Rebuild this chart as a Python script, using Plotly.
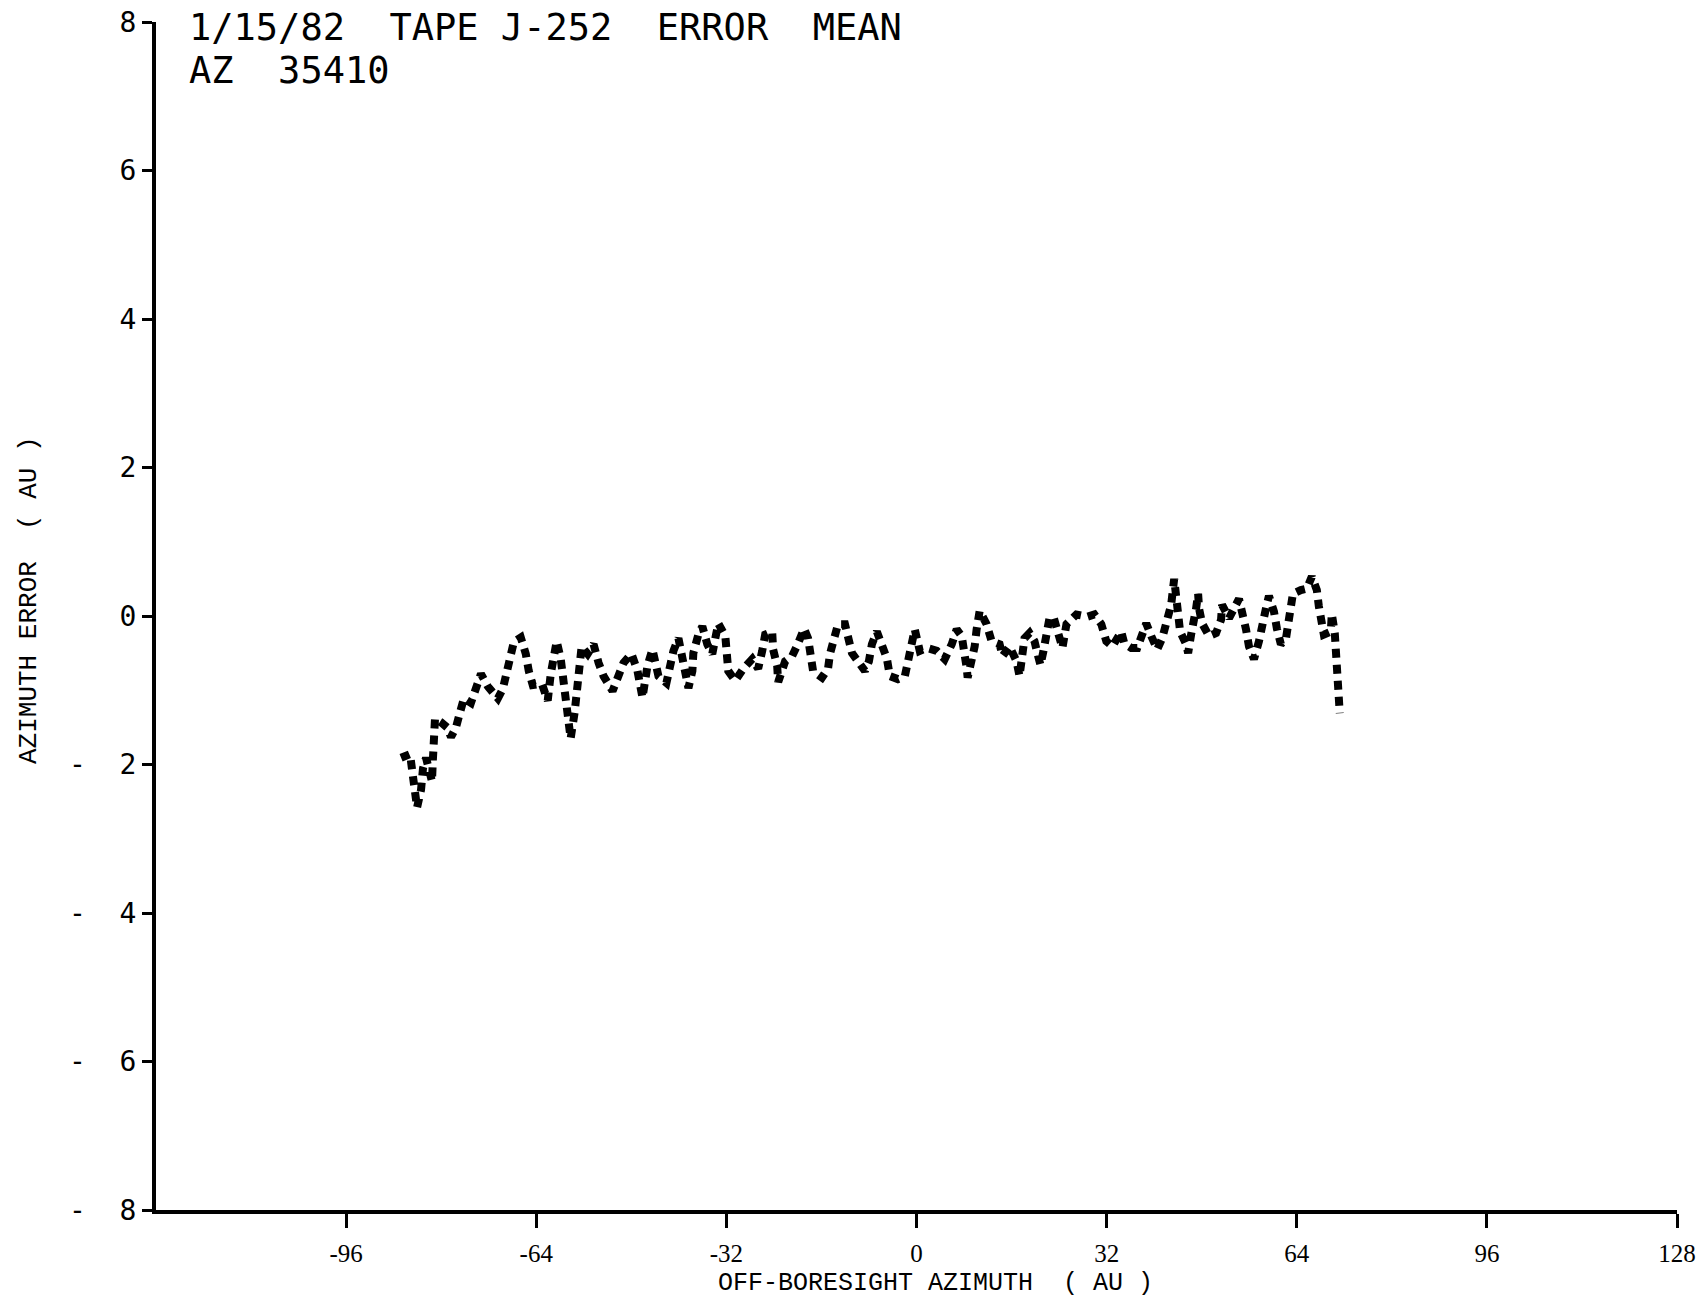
import plotly.graph_objects as go

# ---- data ----
az_offset = [
    -86.75, -85.24, -84.90, -84.40, -84.06, -83.39, -83.06, -82.55, -81.88, -81.55,
    -81.40, -81.21, -81.04, -80.03, -79.02, -78.35, -77.51, -76.84, -76.17, -74.99,
    -74.15, -73.31, -72.14, -70.46, -69.62, -69.12, -68.61, -67.77, -66.60, -65.76,
    -65.26, -64.59, -63.07, -62.07, -61.56, -61.23, -60.56, -59.89, -59.55, -59.22,
    -58.71, -58.38, -58.21, -57.54, -57.20, -56.87, -56.70, -56.36, -55.35, -54.35,
    -53.51, -52.67, -51.16, -50.15, -49.31, -47.97, -46.96, -46.12, -45.62, -45.28,
    -44.44, -43.94, -43.43, -42.09, -41.58, -40.91, -40.07, -39.40, -39.06, -38.39,
    -37.72, -37.56, -36.72, -36.05, -35.21, -34.37, -33.86, -33.36, -32.18, -31.85,
    -31.68, -30.51, -29.16, -27.65, -26.65, -25.97, -25.47, -24.29, -24.13, -23.45,
    -23.28, -22.11, -20.94, -19.93, -18.92, -18.25, -17.91, -17.41, -15.90, -14.89,
    -14.56, -14.05, -13.21, -12.04, -11.53, -10.86, -9.86, -8.68, -8.01, -7.51,
    -6.67, -5.83, -4.99, -4.48, -3.14, -1.96, -1.46, -0.79, -0.29, 0.55,
    1.73, 3.41, 4.75, 5.93, 6.77, 7.61, 8.11, 8.45, 8.61, 9.28,
    9.79, 10.12, 10.63, 11.80, 12.64, 13.99, 14.49, 15.66, 16.84, 17.34,
    17.85, 18.18, 19.02, 19.86, 20.37, 20.87, 21.37, 21.88, 22.38, 23.05,
    24.06, 24.56, 25.24, 26.91, 28.76, 29.94, 31.11, 31.95, 32.96, 34.47,
    34.97, 36.15, 37.16, 37.83, 38.67, 39.51, 40.51, 41.35, 42.19, 42.86,
    43.37, 43.87, 44.37, 45.38, 45.72, 46.22, 46.73, 47.06, 47.40, 47.56,
    48.07, 49.24, 50.42, 51.26, 51.43, 52.60, 54.28, 54.95, 55.46, 55.96,
    56.80, 57.64, 58.14, 58.81, 59.32, 60.16, 60.66, 61.33, 62.17, 62.68,
    63.01, 63.35, 64.69, 65.70, 66.54, 67.38, 67.72, 68.05, 68.56, 69.73,
    69.90, 70.40, 70.57, 70.74, 70.82, 70.90, 71.24,
]
az_error = [
    -1.91, -1.86, -2.07, -2.34, -2.58, -2.34, -2.05, -1.91, -2.10, -2.23,
    -1.94, -1.65, -1.38, -1.43, -1.50, -1.63, -1.50, -1.30, -1.11, -1.17,
    -0.98, -0.78, -0.95, -1.11, -0.98, -0.78, -0.57, -0.35, -0.29, -0.51,
    -0.74, -0.93, -0.91, -1.14, -0.78, -0.57, -0.34, -0.57, -0.77, -0.98,
    -1.21, -1.43, -1.65, -1.30, -1.07, -0.85, -0.63, -0.41, -0.51, -0.38,
    -0.63, -0.81, -1.01, -0.81, -0.63, -0.51, -0.74, -1.10, -0.87, -0.67,
    -0.45, -0.61, -0.81, -0.90, -0.67, -0.47, -0.30, -0.54, -0.74, -0.97,
    -0.74, -0.50, -0.25, -0.14, -0.38, -0.51, -0.30, -0.10, -0.27, -0.51,
    -0.74, -0.87, -0.71, -0.58, -0.71, -0.47, -0.25, -0.21, -0.45, -0.67,
    -0.89, -0.61, -0.54, -0.37, -0.17, -0.30, -0.51, -0.74, -0.83, -0.71,
    -0.51, -0.34, -0.11, -0.11, -0.34, -0.50, -0.61, -0.74, -0.61, -0.38,
    -0.21, -0.38, -0.57, -0.81, -0.85, -0.81, -0.61, -0.38, -0.18, -0.47,
    -0.43, -0.47, -0.58, -0.38, -0.18, -0.27, -0.47, -0.70, -0.83, -0.63,
    -0.41, -0.18, 0.07, -0.11, -0.34, -0.38, -0.54, -0.41, -0.61, -0.81,
    -0.51, -0.30, -0.23, -0.34, -0.51, -0.66, -0.47, -0.27, -0.03, -0.01,
    -0.25, -0.43, -0.11, 0.02, -0.01, 0.02, -0.11, -0.34, -0.41, -0.21,
    -0.37, -0.43, -0.43, -0.27, -0.10, -0.27, -0.45, -0.30, -0.07, 0.15,
    0.50, 0.03, -0.21, -0.38, -0.50, -0.25, -0.07, 0.10, 0.30, 0.10,
    -0.10, -0.27, -0.23, -0.05, 0.15, -0.03, 0.23, 0.03, -0.18, -0.41,
    -0.58, -0.34, -0.10, 0.10, 0.27, 0.06, -0.17, -0.38, -0.31, -0.10,
    0.10, 0.30, 0.35, 0.37, 0.53, 0.35, 0.13, -0.07, -0.25, -0.21,
    0.03, -0.23, -0.45, -0.67, -0.87, -1.10, -1.31,
]

x_tickvals = [-96, -64, -32, 0, 32, 64, 96, 128]
x_ticktext = ["-96", "-64", "-32", "0", "32", "64", "96", "128"]
y_tickvals = [-8, -6, -4, -2, 0, 2, 4, 6, 8]
y_ticktext = ["-\u00a0\u00a08", "-\u00a0\u00a06", "-\u00a0\u00a04", "-\u00a0\u00a02",
              "0", "2", "4", "6", "8"]

title_line1 = "1/15/82\u00a0\u00a0TAPE\u00a0J-252\u00a0\u00a0ERROR\u00a0\u00a0MEAN"
title_line2 = "AZ\u00a0\u00a035410"
x_title = "OFF-BORESIGHT\u00a0AZIMUTH\u00a0\u00a0(\u00a0AU\u00a0)"
y_title = "AZIMUTH\u00a0ERROR\u00a0\u00a0(\u00a0AU\u00a0)"

fig = go.Figure()
fig.add_trace(go.Scatter(
    x=az_offset, y=az_error, mode="lines",
    line=dict(color="black", width=8, dash="9px,7px"),
    hoverinfo="skip", showlegend=False,
))

mono = "DejaVu Sans Mono"
serif = "Liberation Serif"
typew = "Liberation Mono"

L, R, T, B = 156, 28, 22, 88
PW = 1705 - L - R
PH = 1298 - T - B


def px_x(px):
    return (px - L) / PW


def px_y(py):
    return (1298 - B - py) / PH


fig.update_layout(
    width=1705, height=1298,
    margin=dict(l=L, r=R, t=T, b=B, pad=0, autoexpand=False),
    paper_bgcolor="white", plot_bgcolor="white",
    showlegend=False,
    xaxis=dict(
        range=[-128, 128], showgrid=False, zeroline=False, automargin=False,
        showline=True, linecolor="black", linewidth=4,
        ticks="outside", ticklen=14, tickwidth=3, tickcolor="black",
        tickvals=x_tickvals, ticktext=x_ticktext,
        tickfont=dict(family=serif, size=25, color="black"),
        ticklabelstandoff=4,
    ),
    yaxis=dict(
        range=[-8, 8], showgrid=False, zeroline=False, automargin=False,
        showline=True, linecolor="black", linewidth=4,
        ticks="outside", ticklen=10, tickwidth=3, tickcolor="black",
        tickvals=y_tickvals, ticktext=y_ticktext,
        tickfont=dict(family=mono, size=28, color="black"),
        ticklabelstandoff=0,
    ),
    annotations=[
        dict(text=title_line1, xref="paper", yref="paper",
             x=px_x(187), y=px_y(27),
             xanchor="left", yanchor="middle", showarrow=False,
             font=dict(family=mono, size=37, color="black")),
        dict(text=title_line2, xref="paper", yref="paper",
             x=px_x(187), y=px_y(71),
             xanchor="left", yanchor="middle", showarrow=False,
             font=dict(family=mono, size=37, color="black")),
        dict(text=x_title, xref="paper", yref="paper",
             x=px_x(936), y=px_y(1283.8),
             xanchor="center", yanchor="middle", showarrow=False,
             font=dict(family=typew, size=25, color="black")),
        dict(text=y_title, xref="paper", yref="paper",
             x=px_x(29), y=px_y(600),
             xanchor="center", yanchor="middle", showarrow=False, textangle=-90,
             font=dict(family=typew, size=26, color="black")),
    ],
)

fig.write_html(
    "out.html",
    config={"displayModeBar": False},
    post_script="document.body.style.margin='0';document.body.style.overflow='hidden';",
)
